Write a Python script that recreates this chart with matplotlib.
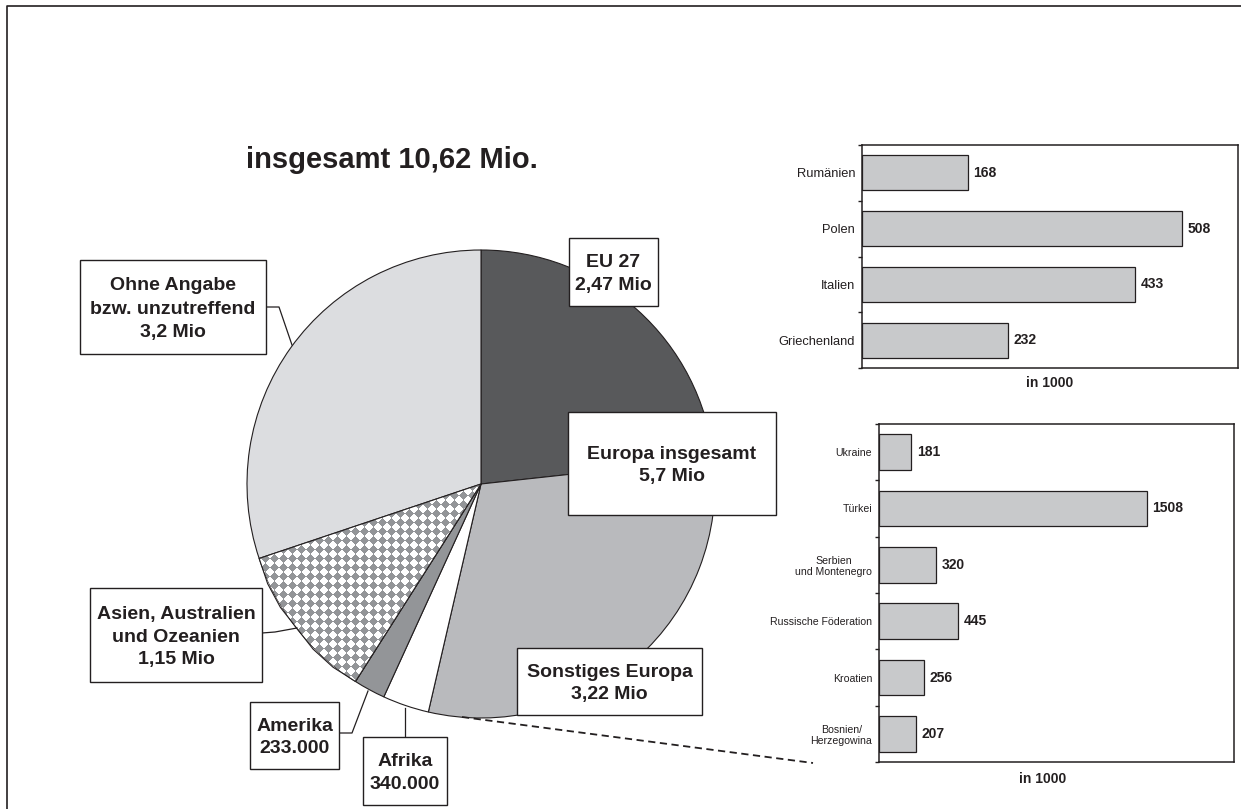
"""
Bevoelkerung mit Migrationshintergrund nach Herkunft: Kreisdiagramm plus
zwei Balkendiagramme (EU 27 und Sonstiges Europa).
"""
import numpy as np
import matplotlib
matplotlib.use("Agg")
import matplotlib.pyplot as plt
from matplotlib.patches import Rectangle

plt.rcParams["font.family"] = ["Liberation Sans", "DejaVu Sans"]

# --- data -------------------------------------------------------------------
pie_labels = ["EU 27", "Sonstiges Europa", "Afrika", "Amerika",
              "Asien, Australien und Ozeanien", "Ohne Angabe"]
pie_values = [2.47, 3.22, 0.34, 0.233, 1.15, 3.2]   # Mio
pie_colors = ["#58595b", "#b9babd", "#ffffff", "#939598", "#ffffff", "#dcdde0"]

eu_countries = ["Rumänien", "Polen", "Italien", "Griechenland"]
eu_values = [168, 508, 433, 232]                     # in 1000

other_countries = ["Ukraine", "Türkei", "Serbien\nund Montenegro",
                   "Russische Föderation", "Kroatien", "Bosnien/\nHerzegowina"]
other_values = [181, 1508, 320, 445, 256, 207]       # in 1000

title_text = "insgesamt 10,62 Mio."

INK = "#231f20"
BAR = "#c8c9cb"
W, H = 1241, 809

fig = plt.figure(figsize=(W / 100, H / 100), dpi=100)

# full-figure axes in pixel units (y pointing down)
ax = fig.add_axes([0, 0, 1, 1])
ax.set_xlim(0, W)
ax.set_ylim(H, 0)
ax.axis("off")

# outer frame (only top and left edges visible)
ax.plot([7, 7, W + 5], [H + 5, 6, 6], color=INK, lw=1.2, clip_on=False)

# --- pie --------------------------------------------------------------------
# y axis is inverted, so start at -90 and go counterclockwise in data space
# to get a clockwise pie starting at 12 o'clock on screen
wedges, _ = ax.pie(pie_values, colors=pie_colors, center=(481, 484),
                   radius=234, startangle=-90, counterclock=True, frame=True,
                   wedgeprops=dict(edgecolor=INK, linewidth=0.8))
ax.set_xlim(0, W)
ax.set_ylim(H, 0)
ax.axis("off")

# checker (diamond) texture for the Asien wedge
yy, xx = np.mgrid[0:H, 0:W]
d = 9.0
mask = (np.floor((xx + yy) / d) + np.floor((xx - yy) / d)) % 2 == 0
tex = np.ones((H, W, 4))
tex[mask, :3] = np.array([0x93, 0x95, 0x98]) / 255.0
img = ax.imshow(tex, extent=(0, W, H, 0), interpolation="nearest",
                aspect="auto", zorder=wedges[4].get_zorder() + 0.1)
img.set_clip_path(wedges[4])
ax.set_xlim(0, W)
ax.set_ylim(H, 0)
# redraw wedge outline above the texture
w4 = wedges[4]
ax.add_patch(plt.Polygon(w4.get_path().transformed(w4.get_patch_transform()).vertices,
                         closed=True, fill=False, edgecolor=INK, lw=0.8,
                         zorder=img.get_zorder() + 0.1))

ax.text(392, 160, title_text, ha="center", va="center", fontsize=21,
        fontweight="bold", color=INK)

# label boxes: (x0, y0, x1, y1) in pixels, text, line spacing
boxes = [
    ((569, 238, 658, 306), "EU 27\n2,47 Mio", 1.4),
    ((568, 412, 776, 515), "Europa insgesamt\n5,7 Mio", 1.4),
    ((517, 648, 702, 715), "Sonstiges Europa\n3,22 Mio", 1.4),
    ((80, 260, 266, 354), "Ohne Angabe\nbzw. unzutreffend\n3,2 Mio", 1.5),
    ((90, 588, 262, 682), "Asien, Australien\nund Ozeanien\n1,15 Mio", 1.4),
    ((250, 702, 339, 769), "Amerika\n233.000", 1.4),
    ((363, 737, 447, 805), "Afrika\n340.000", 1.4),
]
for (x0, y0, x1, y1), txt, lsp in boxes:
    ax.add_patch(Rectangle((x0, y0), x1 - x0, y1 - y0, facecolor="white",
                           edgecolor=INK, lw=1.0, zorder=5))
    ax.text((x0 + x1) / 2, (y0 + y1) / 2 + 2, txt, ha="center", va="center",
            fontsize=14, fontweight="bold", color=INK, linespacing=lsp,
            zorder=6)

# leader lines
leaders = [
    ([266, 279, 292], [307, 307, 345]),
    ([262, 275, 297], [633, 632, 628]),
    ([339, 352, 368], [733, 733, 691]),
    ([405, 405], [737, 708]),
]
for lx, ly in leaders:
    ax.plot(lx, ly, color=INK, lw=0.9, zorder=4)

# dashed connector towards the lower bar chart
ax.plot([462, 813], [717, 763], color=INK, lw=1.3, ls=(0, (4, 2.5)), zorder=4)


# --- bar charts ---------------------------------------------------------------
def bar_panel(rect_px, cats, vals, xmax, cat_size, xlabel_x=0.5):
    x0, y0, x1, y1 = rect_px
    bax = fig.add_axes([x0 / W, 1 - y1 / H, (x1 - x0) / W, (y1 - y0) / H])
    n = len(cats)
    pos = np.arange(n)
    bars = bax.barh(pos, vals, height=0.63, color=BAR, edgecolor=INK,
                    linewidth=0.9)
    bax.set_xlim(0, xmax)
    bax.set_ylim(n - 0.5, -0.5)
    bax.set_xticks([])
    bax.set_yticks(np.arange(n + 1) - 0.5)
    bax.set_yticklabels([])
    bax.tick_params(axis="y", which="major", direction="out", length=3,
                    width=1.0, color=INK)
    bax.set_yticks(pos, minor=True)
    bax.set_yticklabels(cats, minor=True, fontsize=cat_size, color=INK)
    bax.tick_params(axis="y", which="minor", length=0, pad=5)
    for lbl in bax.get_yticklabels(minor=True):
        lbl.set_multialignment("center")
    for sp in bax.spines.values():
        sp.set_color(INK)
        sp.set_linewidth(1.1)
    bax.bar_label(bars, padding=4, fontsize=10, fontweight="bold", color=INK)
    bax.set_xlabel("in 1000", fontsize=10, fontweight="bold", color=INK,
                   labelpad=4)
    bax.xaxis.set_label_coords(xlabel_x, -0.03 if n > 4 else -0.035)
    bax.xaxis.label.set_va("top")
    return bax


bar_panel((862, 145, 1238, 368), eu_countries, eu_values, 597, 9.3)
bar_panel((879, 424, 1234, 762), other_countries, other_values, 2000, 7.6,
          xlabel_x=0.46)

fig.savefig("out.png", dpi=100)
